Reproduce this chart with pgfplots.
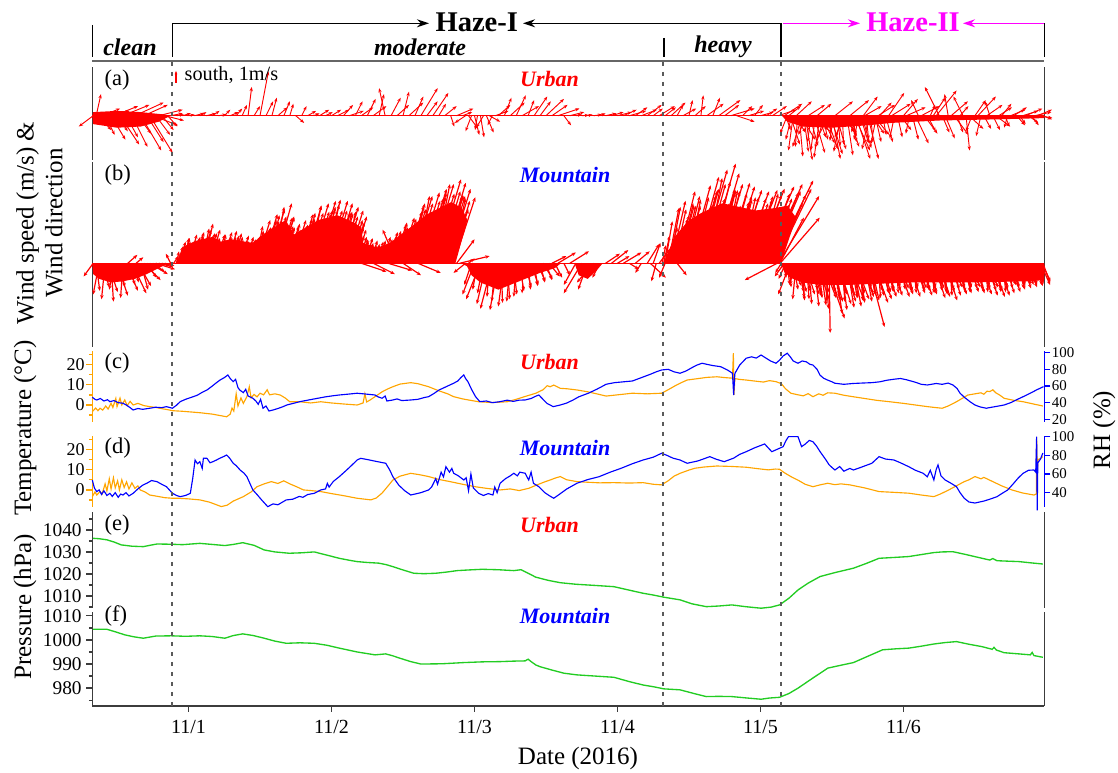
\documentclass[border=0pt]{standalone}
\usepackage{fontspec}
\setmainfont{Liberation Serif}
\usepackage{pgfplots}
\pgfplotsset{compat=1.18}
\usetikzlibrary{arrows.meta}
\definecolor{myorange}{RGB}{255,165,0}
\definecolor{mygreen}{RGB}{34,204,34}
\definecolor{axgray}{RGB}{60,60,60}
\definecolor{dgray}{RGB}{90,90,90}
\definecolor{mymag}{RGB}{255,0,255}
\pgfplotsset{
  base/.style={scale only axis, width=714pt, xmin=7.85, xmax=167.64, clip=false, anchor=south west,
    axis line style={axgray, line width=1.1pt},
    tick style={axgray, line width=1pt},
    tick align=outside, major tick length=4.5pt, minor tick length=2.5pt,
    /pgf/number format/assume math mode=true,
    /pgf/number format/1000 sep={},
    tick label style={font=\fontsize{14.5}{15}\selectfont},
  },
  qv/.style={red, line width=0.7pt, -{Stealth[length=3.2pt,width=2.4pt]},
    quiver={u=\thisrow{u}*2.014, v=\thisrow{v}}},
  qvb/.style={red, line width=0.9pt, -{Stealth[length=3.2pt,width=2.6pt]},
    quiver={u=\thisrow{u}*2.014, v=\thisrow{v}}},
}
\newcommand{\plab}[1]{\fontsize{16.9}{17}\selectfont #1}
\newcommand{\slab}[1]{\fontsize{16.5}{17}\selectfont\bfseries\itshape #1}
\begin{document}
\begin{tikzpicture}
\path[use as bounding box] (0,0) rectangle (838.5pt,579.75pt);

% ---------------- (a) urban wind
\begin{axis}[base, at={(69.225pt,459.75pt)}, height=69.75pt, ymin=-3.69, ymax=4.06,
  axis x line=none, axis y line=box, xtick=\empty, ytick=\empty]
\addplot[red, line width=0.9pt] coordinates {(7.85,0) (167.64,0)};
\addplot[fill=red, draw=none] coordinates {(7.85,0) (8,0.3) (12,0.4) (16,0.3) (20,0.1) (21,0) (19,-0.5) (16,-0.9) (12,-1.0) (8,-0.7)} -- cycle;
\addplot[fill=red, draw=none] coordinates {(123.6,0) (124.5,-0.5) (127,-0.9) (132,-1.0) (138,-0.8) (142,-0.6) (150,-0.4) (160,-0.3) (167.64,-0.2) (167.64,0)} -- cycle;
\addplot[qv] table[row sep=\\, x=h, y expr=0] {h u v\\
8.0 -1.2 -0.9\\ 8.5 0.4 1.8\\ 9.0 1.0 -1.2\\ 9.5 1.5 0.6\\ 10.0 0.8 -1.6\\ 10.5 1.8 0.4\\ 11.0 1.2 -2.0\\ 11.5 2.0 0.8\\
12.0 0.9 -1.3\\ 12.5 1.6 -2.4\\ 13.0 2.2 0.9\\ 13.5 1.0 -1.8\\ 14.0 1.9 -0.6\\ 14.5 1.3 -2.6\\ 15.0 2.4 1.1\\ 15.5 1.1 -1.5\\
16.0 1.7 -2.9\\ 16.5 2.0 0.9\\ 17.0 1.4 -2.2\\ 17.5 1.9 -3.1\\ 18.0 2.1 -0.8\\ 18.5 1.2 -1.6\\ 19.0 2.0 0.5\\ 19.5 1.0 -1.2\\
20.0 1.6 -0.4\\ 20.5 0.8 -0.9\\ 21.0 1.0 0.2\\
22 0.6 0.1\\ 23 0.7 0.2\\ 24 0.5 0.1\\ 25 0.8 0.2\\ 26 0.5 0.3\\ 27 0.8 0.2\\ 28 0.6 0.4\\ 29 0.7 0.1\\ 30 0.5 0.5\\
31 0.7 0.3\\ 32 0.5 0.6\\ 33 0.4 0.9\\ 34 0.3 2.4\\ 35 0.5 0.8\\ 36 0.7 3.7\\ 37 0.6 1.2\\ 38 0.4 1.5\\ 39 0.8 0.7\\
40 0.5 1.2\\ 41 0.3 1.0\\ 42 0.7 -0.6\\ 43 0.4 0.8\\ 44 0.7 0.4\\ 45 0.5 0.2\\ 46 0.8 0.5\\ 47 0.6 0.3\\ 48 0.8 0.5\\
49 1.0 0.5\\ 50 0.8 0.9\\ 51 1.2 0.4\\ 52 0.6 1.2\\ 53 1.0 0.7\\ 54 0.7 1.4\\ 55 1.1 0.8\\ 56 0.4 1.8\\ 57 -0.5 2.3\\
58 0.8 1.5\\ 59 1.0 0.9\\ 60 0.5 2.0\\ 61 1.2 1.1\\ 62 0.7 1.6\\ 63 1.4 2.3\\ 64 0.9 1.2\\ 65 1.3 1.9\\ 66 0.6 1.0\\
67 1.0 0.8\\ 68 0.3 -0.9\\ 69 1.4 0.6\\ 70 0.8 0.3\\
70.5 -0.9 -0.6\\ 71.0 0.8 -1.1\\ 71.5 -0.5 -1.3\\ 72.0 0.4 -1.6\\ 72.5 -0.2 -1.2\\ 73.0 0.3 -1.8\\ 73.5 -0.6 -1.0\\
74.0 0.6 -1.4\\ 74.5 0.9 -0.5\\ 75.0 -0.4 -0.8\\ 75.5 1.1 0.4\\
76 1.0 0.9\\ 77 0.6 1.5\\ 78 1.2 1.1\\ 79 0.8 1.7\\ 80 1.4 0.8\\ 81 0.5 1.3\\ 82 1.1 1.6\\ 83 0.9 1.2\\ 84 1.5 1.4\\
85 1.3 0.9\\ 86 1.8 0.6\\ 87 0.6 -0.8\\ 88 1.2 0.3\\ 89 0.5 0.1\\ 90 0.6 0.05\\ 91 0.4 0.1\\ 92 0.7 0.1\\ 93 0.5 0.2\\
94 0.9 0.2\\ 95 1.0 0.3\\ 96 1.2 0.3\\ 97 1.1 0.5\\ 98 1.4 0.4\\ 99 1.0 0.7\\ 100 1.3 0.5\\ 101 1.2 0.9\\ 102 0.8 0.6\\ 103 1.3 0.8\\
104 0.9 0.7\\ 105 1.2 1.1\\ 106 0.5 0.9\\ 107 1.1 0.6\\ 108 0.3 1.3\\ 109 0.9 0.8\\ 110 0.2 1.7\\ 111 1.4 1.0\\ 112 0.6 1.5\\
113 1.8 1.3\\ 114 1.2 0.9\\ 115 2.0 0.6\\ 116 1.5 -0.5\\ 117 0.8 0.8\\ 118 1.3 0.4\\ 119 0.7 0.9\\ 120 1.1 0.3\\ 121 0.9 0.6\\
122 1.2 0.8\\ 123 1.5 0.5\\
124.0 1.5 1.0\\ 124.5 -0.6 -1.5\\ 125.0 0.8 -2.4\\ 125.5 -0.4 -2.9\\ 126.0 1.3 1.2\\ 126.5 0.3 -3.4\\ 127.0 -0.8 -2.6\\
127.5 0.6 -3.7\\ 128.0 1.4 0.9\\ 128.5 -0.3 -2.2\\ 129.0 0.9 -3.1\\ 129.5 1.2 1.0\\ 130.0 -0.5 -3.5\\ 130.5 0.4 -2.0\\
131.0 1.0 -2.8\\ 131.5 -1.0 -1.9\\ 132.0 0.7 -3.6\\ 132.5 1.5 1.2\\ 133.0 0.2 -2.5\\ 133.5 -0.6 -3.0\\ 134.0 1.1 -1.7\\
134.5 0.5 -3.3\\ 135.0 1.6 1.3\\ 135.5 0.3 -2.2\\ 136.0 1.2 -3.6\\ 136.5 -0.4 -2.0\\ 137.0 0.8 -2.7\\ 137.5 1.4 0.8\\
138.0 0.9 -3.6\\ 138.5 0.2 -2.2\\ 139.0 1.3 -1.6\\ 139.5 -0.5 -2.4\\ 140.0 1.0 1.1\\
141 0.6 -2.2\\ 142 1.6 1.0\\ 143 0.4 -1.8\\ 144 1.2 1.4\\ 145 -0.3 -1.5\\ 146 1.1 -2.3\\ 147 1.5 0.8\\ 148 0.7 -1.3\\
149 1.0 1.5\\ 150 -1.2 2.4\\ 151 0.8 -1.9\\ 152 1.4 1.2\\ 153 0.5 -1.4\\ 154 -0.8 1.6\\ 154.5 0.3 -2.9\\ 155 1.2 -1.1\\
156 0.9 1.3\\ 157 -0.4 -1.7\\ 158 1.3 0.9\\ 159 0.6 -1.2\\ 160 1.1 0.7\\ 161 0.4 -0.9\\ 162 1.2 0.5\\ 163 0.7 -0.8\\
164 1.3 0.4\\ 165 0.8 -0.6\\ 166 1.4 0.3\\ 167 1.0 -0.2\\
124.25 0.4 -1.2\\ 124.75 1.0 0.8\\ 125.25 -0.5 -2.0\\ 125.75 0.9 -1.4\\ 126.25 -0.2 -2.6\\ 126.75 1.2 -2.0\\ 127.25 0.4 -3.0\\
127.75 -0.7 -1.6\\ 128.25 0.7 -2.5\\ 128.75 1.3 -1.2\\ 129.25 -0.4 -2.9\\ 129.75 0.6 -1.8\\ 130.25 1.1 -2.3\\ 130.75 -0.8 -2.7\\
131.25 0.3 -1.5\\ 131.75 1.0 -3.2\\ 132.25 -0.3 -2.1\\ 132.75 0.8 -2.8\\ 133.25 1.4 -1.3\\ 133.75 0.1 -2.4\\ 134.25 -0.9 -1.8\\
134.75 0.9 -2.6\\ 135.25 0.4 -1.6\\ 135.75 1.3 -2.9\\ 136.25 -0.5 -1.4\\ 136.75 0.7 -2.3\\ 137.25 1.2 1.6\\ 137.75 0.2 -2.0\\
138.25 -0.6 -2.8\\ 138.75 1.0 -1.5\\ 139.25 0.5 -2.2\\ 139.75 1.4 0.9\\ 140.5 0.3 -1.6\\ 141.5 1.3 1.9\\ 142.5 -0.4 -1.9\\
143.5 0.9 -1.2\\ 144.5 1.6 0.7\\ 145.5 0.5 -2.0\\ 146.5 -0.6 1.3\\ 147.5 1.1 -1.5\\ 148.5 0.4 0.9\\ 149.5 1.7 2.1\\
150.5 0.6 -1.4\\ 151.5 -0.3 1.8\\ 152.5 1.2 -1.6\\ 153.5 0.7 0.8\\ 155.5 -0.5 -1.3\\ 156.5 1.5 1.6\\ 157.5 0.6 -1.1\\
158.5 -0.4 1.2\\ 159.5 1.2 -0.9\\ 160.5 0.8 1.0\\ 161.5 -0.3 -1.0\\ 162.5 1.1 0.7\\ 163.5 0.5 -0.7\\ 164.5 1.4 0.6\\
165.5 0.6 -0.8\\ 166.5 1.2 0.5\\ 167.3 0.8 -0.3\\
};
% reference arrow 1 m/s
\addplot[red, line width=0.9pt, -{Stealth[length=2.5pt,width=2pt]}, quiver={u=0, v=\thisrow{v}}] table[row sep=\\, x=h, y=y] {h y v\\ 21.9 2.73 1\\};
\end{axis}

% ---------------- (b) mountain wind
\begin{axis}[base, at={(69.225pt,319.5pt)}, height=138.75pt, ymin=-6.975, ymax=8.44,
  axis x line=none, axis y line=box, xtick=\empty, ytick=\empty]
\addplot[red, line width=0.9pt] coordinates {(7.85,0) (167.64,0)};
\addplot[fill=red, draw=none] coordinates {(7.85,0) (8,-0.9) (9,-1.3) (11,-1.6) (13,-1.5) (15,-1.3) (17,-0.9) (19,-0.4) (20,-0.15) (20.5,0)} -- cycle;
\addplot[fill=red, draw=none] coordinates {(21.8,0) (23.2,1.4) (24.9,1.8) (27.1,2.1) (28.1,2.2) (29.4,1.8) (31,2.0) (34.8,1.7) (36.8,2.5) (40.3,3.6) (41.7,2.4) (45.8,3.6) (49,4.0) (51.7,3.4) (53,3.0) (53.3,1.7) (55.7,1.3) (57.8,1.7) (61,2.9) (64.1,4.1) (68.1,5.1) (69.9,4.6) (70.8,3.6) (68.8,0)} -- cycle;
\addplot[fill=red, draw=none] coordinates {(70.5,0) (71.5,-1.0) (73,-1.6) (76,-2.2) (78,-1.8) (80,-1.4) (83,-0.8) (85.5,-0.4) (86.5,0)} -- cycle;
\addplot[fill=red, draw=none] coordinates {(88.8,0) (89.5,-1.0) (91,-1.3) (92.5,-0.6) (93.5,0)} -- cycle;
\addplot[fill=red, draw=none] coordinates {(103.7,0) (105.6,2.2) (107.8,3.5) (110.1,4.2) (113.6,5.0) (116.4,4.7) (119.2,4.4) (122.4,4.6) (124.5,4.8) (126,3.8) (123.4,0)} -- cycle;
\addplot[fill=red, draw=none] coordinates {(123.4,0) (124,-0.7) (125,-1.2) (127,-1.6) (130,-1.8) (135,-1.8) (145,-1.6) (155,-1.6) (165,-1.5) (167.64,-1.4) (167.64,0)} -- cycle;
\addplot[qvb] table[row sep=\\, x=h, y expr=0] {h u v\\
8.0 -0.8 -1.1\\ 8.5 0.3 -2.3\\ 9.0 -0.5 -2.6\\ 9.5 0.6 -2.0\\ 10.0 -0.3 -3.0\\ 10.5 0.8 -2.4\\ 11.0 0.2 -3.2\\
11.5 -0.4 -2.2\\ 12.0 0.9 -2.7\\ 12.5 0.4 -2.0\\ 13.0 -0.2 -2.9\\ 13.5 1.0 -2.3\\ 13.8 0.8 0.7\\ 14.0 0.5 -1.8\\ 14.5 1.2 -2.5\\
15.0 0.3 -1.6\\ 15.2 0.6 0.5\\ 15.5 1.1 -1.9\\ 16.0 0.6 -2.2\\ 16.5 1.4 -1.4\\ 17.0 0.8 -1.2\\ 17.5 1.5 -0.9\\ 18.0 1.0 -0.7\\
18.5 1.6 -0.5\\ 19.0 1.2 -0.3\\ 19.5 1.0 -0.2\\ 20.0 0.8 -0.2\\ 21.0 -0.4 0.8\\ 21.5 0.4 0.6\\
22.0 0.2 1.0\\ 22.5 0.5 1.8\\ 23.0 0.6 2.1\\ 23.5 0.4 1.8\\ 24.0 0.7 2.4\\ 24.5 0.6 2.0\\ 25.0 0.8 2.6\\ 25.5 0.5 2.2\\
26.0 0.9 2.8\\ 26.5 0.8 3.3\\ 27.0 0.7 2.5\\ 27.5 0.9 2.8\\ 28.0 0.5 2.0\\ 28.5 0.8 2.4\\ 29.0 0.6 2.0\\ 29.5 0.9 2.6\\
30.0 0.6 2.2\\ 30.5 0.8 2.7\\ 31.0 0.7 2.1\\ 31.5 0.7 2.5\\ 32.0 0.6 1.9\\ 32.5 0.8 2.3\\ 33.0 0.5 1.9\\ 33.5 0.7 2.2\\
34.0 0.6 1.8\\ 34.5 0.8 2.3\\ 35.0 0.8 2.7\\ 35.5 1.1 3.6\\ 36.0 0.9 3.0\\ 36.5 1.2 4.1\\ 37.0 1.1 3.5\\ 37.5 1.3 4.5\\
38.0 1.2 3.9\\ 38.5 1.4 5.0\\ 39.0 1.2 3.8\\ 39.5 1.1 3.9\\ 40.0 0.9 3.0\\ 40.5 1.0 3.1\\ 41.0 0.9 2.8\\ 41.5 1.1 3.6\\
42.0 1.0 3.2\\ 42.5 1.2 4.1\\ 43.0 1.1 3.7\\ 43.5 1.4 4.8\\ 44.0 1.3 4.2\\ 44.5 1.5 5.0\\ 45.0 1.3 4.3\\ 45.5 1.6 5.2\\
46.0 1.3 4.5\\ 46.5 1.5 5.3\\ 47.0 1.4 4.4\\ 47.5 1.6 5.2\\ 48.0 1.3 4.4\\ 48.5 1.5 5.0\\ 49.0 1.3 4.1\\ 49.5 1.5 4.7\\
50.0 1.2 3.9\\ 50.5 1.4 4.4\\ 51.0 1.1 3.6\\ 51.5 1.2 3.9\\ 52.0 0.9 2.8\\ 52.5 0.7 2.2\\ 53.0 0.6 1.9\\ 53.5 0.7 2.1\\
54.0 0.5 1.7\\ 54.5 0.6 1.9\\ 55.0 0.5 1.5\\ 55.5 0.6 1.8\\ 56.0 0.5 1.7\\ 56.5 0.7 2.2\\ 57.0 0.6 2.0\\ 57.5 0.8 2.6\\
58.0 0.8 2.5\\ 58.5 1.0 3.2\\ 59.0 0.9 3.0\\ 59.5 1.2 3.8\\ 60.0 1.1 3.7\\ 60.5 1.5 4.8\\ 61.0 1.4 4.5\\ 61.5 1.7 5.6\\
62.0 1.5 5.0\\ 62.5 1.8 5.9\\ 63.0 1.6 5.2\\ 63.5 1.9 6.2\\ 64.0 1.6 5.5\\ 64.5 2.0 6.6\\ 65.0 1.8 5.8\\ 65.5 2.1 7.0\\
66.0 1.8 6.0\\ 66.5 2.0 6.7\\ 67.0 1.7 5.6\\ 67.5 1.9 6.2\\ 68.0 1.6 5.2\\ 68.5 1.8 5.5\\
53.0 2.1 -0.7\\ 55.0 1.8 -0.9\\ 57.5 2.0 -0.6\\ 60.0 1.5 -1.0\\ 62.5 1.9 -0.8\\ 59.0 -1.2 2.8\\ 64.0 -0.8 3.4\\
69.0 1.5 2.0\\ 69.5 2.5 0.6\\ 70.0 0.8 -0.4\\ 70.5 -1.0 -0.8\\ 71.0 0.5 0.4\\
71.5 -0.6 -1.8\\ 72.0 -1.0 -2.6\\ 72.5 -0.4 -2.2\\ 73.0 -1.2 -3.0\\ 73.5 -0.5 -2.5\\ 74.0 -0.8 -3.4\\ 74.5 -0.2 -2.8\\
75.0 -1.0 -3.8\\ 75.5 -0.3 -3.2\\ 76.0 -0.7 -3.9\\ 76.5 0.1 -3.3\\ 77.0 -0.5 -3.6\\ 77.5 0.2 -3.0\\ 78.0 -0.3 -3.2\\
78.5 0.3 -2.6\\ 79.0 -0.2 -2.8\\ 79.5 0.4 -2.3\\ 80.0 0.0 -2.5\\ 80.5 0.5 -2.0\\ 81.0 0.2 -2.2\\ 81.5 0.6 -1.8\\
82.0 0.3 -1.9\\ 82.5 0.7 -1.5\\ 83.0 0.4 -1.6\\ 83.5 0.8 -1.3\\ 84.0 0.5 -1.4\\ 84.5 0.9 -1.1\\ 85.0 1.2 0.6\\ 85.5 0.6 -1.2\\
86.0 1.5 0.9\\ 87.0 0.5 -1.0\\ 88.0 1.6 1.0\\ 89.0 -1.0 -1.8\\ 90.0 -1.5 -2.5\\ 91.0 -0.8 -2.2\\ 92.0 -1.4 -1.6\\
93.0 -0.6 -1.2\\ 94.0 1.2 0.8\\ 95.0 1.4 1.1\\ 96.0 1.0 0.6\\ 97.0 1.5 0.9\\ 98.0 0.8 -0.5\\ 99.0 1.2 1.0\\
100.0 -0.5 -0.8\\ 101.0 1.0 1.6\\ 101.5 1.3 -1.2\\ 102.0 0.6 1.7\\ 102.5 -0.4 -1.5\\ 103.0 0.9 1.2\\
103.5 0.3 1.5\\ 104.0 0.6 3.5\\ 104.5 0.9 4.6\\ 105.0 1.2 5.2\\ 105.5 1.0 4.5\\ 106.0 1.5 6.0\\ 106.5 1.1 5.0\\
107.0 1.4 5.6\\ 107.5 1.2 4.8\\ 108.0 1.8 6.5\\ 108.5 1.4 5.5\\ 109.0 2.0 7.2\\ 109.5 1.6 6.0\\ 110.0 2.2 7.8\\
110.5 1.8 6.6\\ 111.0 2.4 8.3\\ 111.5 1.7 6.8\\ 112.0 2.2 7.5\\ 112.5 1.6 6.2\\ 113.0 2.0 6.6\\ 113.5 1.5 6.0\\
114.0 2.1 6.7\\ 114.5 1.6 5.8\\ 115.0 2.0 6.4\\ 115.5 1.5 5.6\\ 116.0 2.1 6.1\\ 116.5 1.6 5.5\\ 117.0 2.2 6.0\\
117.5 1.7 5.4\\ 118.0 2.4 6.1\\ 118.5 1.8 5.6\\ 119.0 2.5 6.2\\ 119.5 2.0 5.7\\ 120.0 2.8 6.4\\ 120.5 2.2 5.8\\
121.0 3.0 6.6\\ 121.5 2.6 6.0\\ 122.0 3.4 6.9\\ 122.5 3.0 6.2\\ 123.0 3.4 5.6\\ 123.3 3.3 3.8\\
122.8 -2.7 -1.4\\ 104.0 -0.5 -1.2\\ 106.0 0.8 -1.0\\
123.5 -0.5 -0.8\\ 124.0 -0.8 -1.1\\ 124.5 0.2 -1.8\\ 125.0 -1.0 -2.6\\ 125.5 0.4 -2.2\\ 126.0 -0.3 -3.0\\ 126.5 0.6 -2.4\\
127.0 0.2 -3.1\\ 127.5 0.8 -2.6\\ 128.0 0.3 -3.4\\ 128.5 0.9 -2.8\\ 129.0 0.4 -3.6\\ 129.5 1.0 -3.0\\ 130.0 0.5 -3.5\\
130.5 1.1 -2.9\\ 131.0 0.2 -3.8\\ 131.5 0.1 -5.8\\ 132.0 0.9 -3.2\\ 132.5 0.6 -4.2\\ 133.0 1.1 -3.4\\ 133.5 0.5 -3.9\\
134.0 1.0 -3.2\\ 134.5 0.6 -3.7\\ 135.0 1.2 -3.1\\ 135.5 0.7 -3.6\\ 136.0 1.1 -3.0\\ 136.5 0.5 -3.3\\ 137.0 1.0 -2.8\\
137.5 0.6 -3.2\\ 138.0 1.4 -5.3\\ 138.5 0.7 -3.1\\ 139.0 1.2 -3.3\\ 139.5 0.6 -2.7\\ 140.0 1.0 -3.0\\ 140.5 0.5 -2.5\\
141.0 0.9 -2.8\\ 141.5 0.4 -2.4\\ 142.0 0.9 -2.7\\ 142.5 0.5 -2.3\\ 143.0 1.0 -2.8\\ 143.5 0.4 -2.2\\ 144.0 0.8 -2.6\\
144.5 0.5 -2.3\\ 145.0 0.9 -2.8\\ 145.5 0.4 -2.2\\ 146.0 0.8 -2.5\\ 146.5 0.5 -2.3\\ 147.0 0.9 -2.7\\ 147.5 0.4 -2.2\\
148.0 0.8 -2.6\\ 148.5 0.5 -2.4\\ 149.0 1.0 -2.9\\ 149.5 0.5 -2.3\\ 150.0 0.9 -2.8\\ 150.5 0.4 -2.5\\ 151.0 1.0 -3.1\\
151.5 0.5 -2.4\\ 152.0 0.8 -2.7\\ 152.5 0.4 -2.2\\ 153.0 0.8 -2.6\\ 153.5 0.3 -2.1\\ 154.0 0.7 -2.5\\ 154.5 0.4 -2.1\\
155.0 0.8 -2.4\\ 155.5 0.4 -2.1\\ 156.0 0.8 -2.5\\ 156.5 0.4 -2.2\\ 157.0 0.9 -2.6\\ 157.5 0.5 -2.2\\ 158.0 0.9 -2.7\\
158.5 0.5 -2.3\\ 159.0 1.0 -2.8\\ 159.5 0.5 -2.3\\ 160.0 0.9 -2.7\\ 160.5 0.5 -2.2\\ 161.0 0.8 -2.5\\ 161.5 0.4 -2.1\\
162.0 0.8 -2.4\\ 162.5 0.4 -2.0\\ 163.0 0.7 -2.2\\ 163.5 0.4 -1.9\\ 164.0 0.7 -2.1\\ 164.5 0.4 -1.8\\ 165.0 0.7 -2.0\\
165.5 0.4 -1.8\\ 166.0 0.7 -1.9\\ 166.5 0.5 -1.7\\ 167.0 0.8 -1.8\\ 167.4 0.6 -1.6\\
};
% interleaved records
\addplot[qvb] table[row sep=\\, x=h, y expr=0] {h u v\\
22.25 0.4 1.4\\ 22.75 0.5 1.5\\ 23.25 0.4 2.1\\ 23.75 0.8 1.9\\ 24.25 0.5 1.7\\ 24.75 0.6 2.2\\ 25.25 0.6 2.4\\ 25.75 0.7 2.1\\
26.25 0.6 2.9\\ 26.75 1.0 2.5\\ 27.25 0.6 2.0\\ 27.75 0.6 2.2\\ 28.25 0.5 2.1\\ 28.75 0.6 1.8\\ 29.25 0.5 2.4\\ 29.75 0.8 2.1\\
30.25 0.6 1.9\\ 30.75 0.6 2.2\\ 31.25 0.6 2.3\\ 31.75 0.6 1.8\\ 32.25 0.4 2.2\\ 32.75 0.7 1.8\\ 33.25 0.5 1.5\\ 33.75 0.5 1.8\\
34.25 0.5 2.0\\ 34.75 0.7 2.0\\ 35.25 0.6 3.1\\ 35.75 1.2 3.0\\ 36.25 0.8 2.8\\ 36.75 1.0 3.6\\ 37.25 1.0 4.0\\ 37.75 1.2 3.5\\
38.25 0.9 4.7\\ 38.75 1.5 3.8\\ 39.25 0.9 2.9\\ 39.75 0.9 3.1\\ 40.25 0.7 2.9\\ 40.75 0.8 2.4\\ 41.25 0.7 3.3\\ 41.75 1.2 3.0\\
42.25 0.8 2.8\\ 42.75 1.0 3.7\\ 43.25 1.0 4.2\\ 43.75 1.3 3.7\\ 44.25 1.0 4.8\\ 44.75 1.6 4.1\\ 45.25 1.1 3.6\\ 45.75 1.2 4.4\\
46.25 1.2 4.7\\ 46.75 1.4 3.9\\ 47.25 1.0 4.9\\ 47.75 1.7 4.2\\ 48.25 1.1 3.6\\ 48.75 1.2 4.2\\ 49.25 1.1 4.3\\ 49.75 1.2 3.5\\
50.25 0.9 4.3\\ 50.75 1.4 3.4\\ 51.25 0.8 2.8\\ 51.75 0.8 3.0\\ 52.25 0.6 2.3\\ 52.75 0.6 1.7\\ 53.25 0.4 2.0\\ 53.75 0.6 1.6\\
54.25 0.4 1.3\\ 54.75 0.4 1.5\\ 55.25 0.4 1.6\\ 55.75 0.5 1.4\\ 56.25 0.4 1.9\\ 56.75 0.7 1.8\\ 57.25 0.5 1.7\\ 57.75 0.6 2.3\\
58.25 0.7 2.7\\ 58.75 0.9 2.5\\ 59.25 0.7 3.4\\ 59.75 1.3 3.2\\ 60.25 1.0 3.2\\ 60.75 1.2 4.3\\ 61.25 1.2 5.0\\ 61.75 1.5 4.3\\
62.25 1.1 5.6\\ 62.75 1.9 4.8\\ 63.25 1.3 4.3\\ 63.75 1.5 5.4\\ 64.25 1.5 5.9\\ 64.75 1.8 5.0\\ 65.25 1.3 6.6\\ 65.75 2.2 5.6\\
66.25 1.4 4.8\\ 66.75 1.6 5.6\\ 67.25 1.4 5.7\\ 67.75 1.6 4.5\\ 68.25 1.1 5.4\\
103.75 0.5 2.3\\ 104.25 0.9 3.0\\ 104.75 0.9 4.7\\ 105.25 1.4 4.0\\ 105.75 1.0 3.7\\ 106.25 1.3 4.8\\ 106.75 1.2 4.8\\
107.25 1.4 4.0\\ 107.75 1.1 5.3\\ 108.25 1.8 4.8\\ 108.75 1.3 4.5\\ 109.25 1.6 5.6\\ 109.75 1.6 6.2\\ 110.25 1.9 5.4\\
110.75 1.4 7.1\\ 111.25 2.3 6.1\\ 111.75 1.5 5.0\\ 112.25 1.7 5.9\\ 112.75 1.5 5.9\\ 113.25 1.7 4.8\\ 113.75 1.2 6.1\\
114.25 2.0 5.0\\ 114.75 1.3 4.3\\ 115.25 1.4 5.1\\ 115.75 1.4 5.3\\ 116.25 1.6 4.4\\ 116.75 1.2 5.5\\ 117.25 1.9 4.6\\
117.75 1.3 4.1\\ 118.25 1.5 5.0\\ 118.75 1.6 5.3\\ 119.25 1.8 4.5\\ 119.75 1.6 5.8\\ 120.25 2.3 4.9\\ 120.75 1.6 4.3\\
121.25 2.0 5.4\\ 121.75 2.3 5.9\\ 122.25 2.4 5.0\\ 122.75 2.4 5.7\\ 123.25 2.0 3.8\\
123.75 0.3 -1.2\\ 124.25 -0.6 -1.3\\ 124.75 0.2 -2.0\\ 125.25 0.8 -1.9\\ 125.75 -0.4 -1.8\\ 126.25 0.5 -2.4\\ 126.75 0.3 -2.9\\
127.25 0.6 -2.4\\ 127.75 0.2 -3.0\\ 128.25 0.8 -2.6\\ 128.75 0.4 -2.2\\ 129.25 0.5 -2.7\\ 129.75 0.3 -2.9\\ 130.25 0.6 -2.4\\
130.75 0.2 -3.2\\ 130.9 1.6 -4.6\\ 131.25 0.8 -2.7\\ 131.75 0.4 -2.4\\ 132.25 0.5 -2.9\\ 132.75 0.3 -3.1\\ 133.25 0.6 -2.6\\
133.75 0.2 -3.2\\ 134.25 0.8 -2.7\\ 134.75 0.4 -2.4\\ 135.25 0.5 -2.9\\ 135.75 0.3 -2.9\\ 136.25 0.6 -2.5\\ 136.75 0.2 -3.1\\
137.25 0.8 -2.5\\ 137.75 0.4 -2.1\\ 138.25 0.5 -2.6\\ 138.75 0.3 -2.7\\ 139.25 0.6 -2.3\\ 139.75 0.2 -2.9\\ 140.25 0.8 -2.4\\
140.75 0.4 -1.8\\ 141.25 0.5 -2.2\\ 141.75 0.3 -2.3\\ 142.25 0.6 -2.0\\ 142.75 0.2 -2.5\\ 143.25 0.8 -2.1\\ 143.75 0.4 -1.8\\
144.25 0.5 -2.2\\ 144.75 0.3 -2.4\\ 145.25 0.6 -2.0\\ 145.75 0.2 -2.5\\ 146.25 0.8 -2.1\\ 146.75 0.4 -1.8\\ 147.25 0.5 -2.2\\
147.75 0.3 -2.3\\ 148.25 0.6 -2.0\\ 148.75 0.2 -2.5\\ 149.25 0.8 -2.1\\ 149.75 0.4 -1.9\\ 150.25 0.5 -2.4\\ 150.75 0.3 -2.6\\
151.25 0.6 -2.2\\ 151.75 0.2 -2.7\\ 152.25 0.8 -2.0\\ 152.75 0.4 -1.7\\ 153.25 0.5 -2.1\\ 153.75 0.3 -2.4\\ 154.25 0.6 -2.0\\
154.75 0.2 -2.4\\ 155.25 0.8 -2.0\\ 155.75 0.4 -1.7\\ 156.25 0.5 -2.1\\ 156.75 0.3 -2.3\\ 157.25 0.6 -1.9\\ 157.75 0.2 -2.4\\
158.25 0.8 -2.0\\ 158.75 0.4 -1.7\\ 159.25 0.5 -2.1\\ 159.75 0.3 -2.4\\ 160.25 0.6 -2.0\\ 160.75 0.2 -2.4\\ 161.25 0.8 -1.8\\
161.75 0.4 -1.5\\ 162.25 0.5 -1.9\\ 162.75 0.3 -2.1\\ 163.25 0.6 -1.8\\ 163.75 0.2 -2.1\\ 164.25 0.8 -1.8\\ 164.75 0.4 -1.4\\
165.25 0.5 -1.6\\ 165.75 0.3 -1.8\\ 166.25 0.6 -1.5\\ 166.75 0.2 -1.8\\ 167.25 0.7 -1.5\\
};
\end{axis}

% ---------------- (c) urban T
\begin{axis}[base, at={(69.225pt,263.25pt)}, height=53.25pt, ymin=-8.37, ymax=26.6,
  axis x line=none, axis y line*=left, xtick=\empty, ytick={0,10,20}, minor ytick={-5,5,15,25},
  axis line style={myorange}, tick style={myorange},
  yticklabel style={font=\fontsize{13.5}{13.5}\selectfont, inner sep=1pt}]
\addplot[myorange, line width=0.85pt] coordinates {
(7.85,-3.3) (8.4,-1.5) (8.8,-2.8) (9.15,-1.6) (9.6,-2.5) (10.1,-0.5) (10.5,-2.0) (11.0,0.8) (11.3,-1.2) (11.8,3.2) (12.0,-0.8)
(12.5,3.4) (12.8,0.0) (13.3,2.5) (13.7,-0.3) (14.2,1.8) (14.7,0.0) (15.5,0.8) (16.5,-0.3) (17.5,-0.8) (18.5,-1.2) (19.5,-1.8)
(20.5,-2.3) (21.3,-2.8) (23.0,-3.1) (25.9,-3.8) (28.0,-4.5) (30.4,-5.8) (31.0,-4.5) (31.3,-1.5) (31.6,-3.0) (32.0,5.5) (32.3,-0.5)
(32.8,3.5) (33.2,0.8) (33.8,4.1) (34.2,9.0) (34.5,3.5) (35.0,5.2) (35.5,4.0) (36.0,5.8) (36.6,5.0) (37.2,7.5) (37.6,5.0)
(38.5,5.5) (39.4,4.9) (40.2,3.5) (41.0,1.6) (42.7,1.6) (44.5,1.0) (46.2,1.6) (48.0,1.0) (50.0,0.5) (52.3,0.0) (53.3,1.0)
(53.6,5.5) (53.9,1.5) (54.5,2.5) (55.3,4.1) (56.5,6.5) (57.5,8.0) (58.3,9.0) (59.5,10.3) (61.3,11.0) (62.5,10.5) (64.3,9.0)
(66.0,7.0) (67.5,5.5) (68.5,4.1) (70.0,3.0) (71.5,2.2) (72.7,1.6) (75.0,1.2) (77.5,1.6) (79.0,2.8) (80.5,4.2) (82.3,5.8)
(83.5,7.5) (84.2,9.5) (84.7,9.0) (85.3,9.8) (86.4,8.2) (87.5,8.0) (89.2,7.4) (91.0,6.5) (92.5,5.5) (94.1,4.4) (96.0,5.0)
(98.5,5.8) (101.0,5.5) (103.4,5.8) (104.5,7.5) (105.7,9.5) (106.7,11.0) (107.7,12.3) (109.5,13.0) (111.0,13.6) (112.7,13.9)
(114.0,13.5) (115.3,13.2) (115.45,25.5) (115.55,5.0) (115.7,13.0) (116.5,12.6) (117.6,12.3) (119.0,11.8) (120.5,11.3)
(121.5,12.0) (122.6,11.5) (123.5,10.5) (124.2,8.0) (125.1,5.8) (126.0,5.2) (127.2,4.5) (128.0,5.6) (128.8,4.1) (129.8,5.5)
(130.5,4.8) (131.3,6.0) (132.5,5.8) (134.0,4.8) (135.5,4.1) (137.5,3.2) (139.5,2.3) (141.7,1.6) (144.0,0.8) (146.0,0.0)
(148.0,-0.8) (149.5,-1.3) (150.5,-1.6) (151.5,-0.5) (152.9,1.6) (154.0,3.5) (154.8,4.9) (156.0,5.5) (157.0,6.0) (157.5,5.3)
(158.0,6.8) (158.5,6.6) (159.0,7.5) (159.5,6.0) (160.2,4.8) (160.9,3.3) (162.5,2.3) (164.1,1.6) (165.8,0.5) (167.4,-0.5)};
\end{axis}
% ---------------- (c) urban RH
\begin{axis}[base, at={(69.225pt,263.25pt)}, height=53.25pt, ymin=16.8, ymax=102.0,
  axis x line=none, axis y line*=right, xtick=\empty, ytick={20,40,60,80,100},
  axis line style={blue}, tick style={blue},
  yticklabel style={font=\fontsize{11.2}{11.2}\selectfont, inner sep=1pt}]
\addplot[blue, line width=0.85pt] coordinates {
(7.85,46.5) (8.3,44) (8.6,43.2) (9.2,45) (9.8,42) (10.4,43.5) (10.8,41.2) (11.5,42.5) (12.2,40) (13.0,39.3) (13.6,37)
(14.2,34) (14.7,31.2) (15.5,33) (16.3,32) (17.5,33.3) (18.5,34.5) (19.5,34) (20.3,35.2) (21.3,33.3) (22.0,37) (22.6,41.2)
(23.5,44) (24.8,47.2) (25.5,49) (26.2,52) (27.1,55.2) (28.0,60) (28.7,64) (29.3,67.2) (30.0,70) (30.6,73.2) (31.0,69)
(31.5,65.2) (31.9,68) (32.3,58) (32.6,55.2) (33.2,52) (33.6,56) (34.0,48) (34.8,45.3) (35.3,42) (35.7,38) (36.1,44)
(36.5,33.3) (37.0,36) (37.5,30) (38.2,31.2) (39.0,33) (39.8,35) (40.5,37.2) (41.5,39) (42.7,41.2) (44.0,43) (45.5,45)
(47.0,47) (48.5,48.5) (49.3,49.2) (50.5,50) (52.3,51.3) (53.5,50.5) (55.3,49.2) (55.8,47) (56.5,45.3) (57.0,48) (57.3,42)
(58.3,43.2) (59.0,44.5) (59.8,42.5) (61.3,43.2) (62.5,44) (63.5,46) (64.3,47.2) (65.2,51) (66.0,55) (66.7,57.3) (67.5,60)
(68.5,63.3) (69.2,66) (69.7,70) (70.2,73.2) (70.5,69) (70.9,65.2) (71.5,56) (72.2,47) (72.9,41.2) (74.0,42) (75.0,40)
(76.3,41.2) (77.5,43) (78.5,41.5) (79.5,43) (80.5,43.2) (81.5,45) (82.2,47.5) (82.8,49.2) (83.5,44) (84.2,39) (84.7,37.2)
(85.2,35.2) (86.3,37) (87.4,39.3) (88.5,43) (89.5,47) (91.1,51.3) (92.5,56) (93.3,59) (94.1,62.1) (95.5,64) (97.0,65)
(98.5,66.0) (100.0,70) (101.5,74) (102.5,77) (103.4,79.2) (104.5,80) (105.5,77) (106.5,75.3) (107.5,78) (108.5,82) (109.3,85)
(110.2,87.3) (111.0,86) (112.0,84.5) (113.3,83.2) (114.5,79) (115.3,75.3) (115.5,49.2) (115.7,75) (116.5,85) (117.6,93.3)
(118.5,95) (119.3,93.5) (120.1,97.2) (120.8,94) (121.7,90) (122.6,87.3) (123.2,91) (123.8,96) (124.5,99.3) (125.0,95)
(125.5,90) (126.3,87.3) (127.0,90) (127.7,89) (128.3,86) (128.8,85.2) (129.5,80) (130.0,73) (130.6,69.3) (131.3,67) (132.0,65)
(132.5,63.3) (134.0,62) (135.5,63) (137.0,63.5) (138.7,64.0) (140.0,65) (141.3,67) (142.4,68.1) (143.5,69) (144.5,67.5)
(146.0,64.5) (147.0,62) (148.0,61.2) (149.5,63) (150.5,62) (151.5,63.5) (152.3,61.2) (153.0,57) (153.5,51.3) (154.3,46)
(155.2,41) (156.0,37.2) (156.8,35) (157.9,33.3) (158.8,34.5) (160.0,36) (160.9,37.2) (162.0,40) (163.0,43.5) (164.1,47.2)
(165.2,51) (166.4,55.5) (167.5,59.2)};
\end{axis}

% ---------------- (d) mountain T
\begin{axis}[base, at={(69.225pt,199.5pt)}, height=52.875pt, ymin=-8.4, ymax=26.35,
  axis x line=none, axis y line*=left, xtick=\empty, ytick={0,10,20}, minor ytick={-5,5,15,25},
  axis line style={myorange}, tick style={myorange},
  yticklabel style={font=\fontsize{13.5}{13.5}\selectfont, inner sep=1pt}]
\addplot[myorange, line width=0.85pt] coordinates {
(7.85,-3.3) (8.3,-1.0) (8.6,-2.5) (9.15,-0.8) (9.5,-2.0) (10.0,3.0) (10.3,-0.5) (10.7,5.5) (11.0,0.5) (11.4,6.0) (11.7,1.0)
(12.1,4.5) (12.4,0.0) (12.8,5.0) (13.2,1.2) (13.6,4.0) (14.0,0.5) (14.5,3.5) (15.0,0.8) (15.5,2.0) (15.9,0.0) (16.7,-1.0)
(17.5,-2.5) (18.5,-3.0) (20.0,-3.8) (21.3,-4.1) (22.3,-4.1) (24.0,-4.4) (25.9,-4.9) (27.5,-6.0) (29.5,-8.2) (30.5,-7.5)
(31.5,-5.5) (33.2,-3.3) (34.5,-1.0) (35.5,1.6) (36.7,3.0) (37.9,4.1) (39.0,3.2) (40.0,4.5) (41.0,3.0) (42.2,1.5) (43.3,0.0)
(44.5,-0.3) (46.2,-0.8) (48.0,-1.8) (50.0,-2.8) (52.3,-4.1) (54.6,-4.9) (55.5,-4.0) (56.5,-1.5) (57.5,2.0) (58.3,4.9)
(59.5,6.8) (61.3,8.2) (62.8,7.5) (64.3,6.6) (66.0,5.2) (67.9,4.1) (70.0,2.8) (72.1,1.6) (74.0,0.8) (76.3,0.0) (78.0,0.5)
(79.5,-0.3) (81.1,0.8) (82.5,2.5) (83.8,4.0) (84.7,4.9) (85.5,5.8) (86.4,6.6) (87.5,5.0) (89.2,4.1) (91.0,3.8) (93.0,3.5)
(95.4,3.6) (98.0,3.4) (100.3,3.6) (102.0,2.8) (103.4,2.5) (104.5,4.5) (105.5,6.8) (106.5,8.2) (108.0,9.8) (109.0,10.7)
(110.5,11.3) (112.7,11.8) (115.0,11.6) (117.6,11.2) (119.5,10.5) (121.3,9.9) (122.5,10.3) (123.2,10.2) (124.0,8.5) (125.1,6.6)
(126.5,4.5) (127.5,2.8) (128.8,1.6) (130.0,2.5) (131.3,3.3) (132.5,2.6) (133.5,3.0) (135.0,2.5) (137.5,1.0) (139.9,-0.8)
(142.5,-1.2) (144.9,-1.6) (147.0,-2.5) (149.1,-3.3) (150.2,-2.0) (151.6,0.0) (153.0,2.2) (154.2,4.1) (155.0,5.0) (156.0,6.6)
(157.0,5.5) (157.5,6.2) (159.0,4.1) (160.5,2.0) (162.2,0.0) (164.0,-1.5) (165.9,-2.5) (166.3,-2.0) (166.35,26) (166.45,8)
(166.6,15) (167.0,15.5) (167.4,16.4)};
\end{axis}
% ---------------- (d) mountain RH
\begin{axis}[base, at={(69.225pt,199.5pt)}, height=52.875pt, ymin=24.65, ymax=100.2,
  axis x line=none, axis y line*=right, xtick=\empty, ytick={40,60,80,100},
  axis line style={blue}, tick style={blue},
  yticklabel style={font=\fontsize{11.2}{11.2}\selectfont, inner sep=1pt}]
\addplot[blue, line width=0.85pt] coordinates {
(7.85,53.6) (8.2,45) (8.6,41.1) (9.0,43) (9.4,38) (9.8,42) (10.3,37) (10.8,39.3) (11.2,36) (11.7,40) (12.2,35) (12.6,38.5)
(13.0,37.5) (13.5,40) (14.0,36.5) (14.7,39.3) (15.5,44) (16.3,48) (17.0,50.1) (17.8,53) (18.7,51.8) (19.5,49) (20.3,46.4)
(21.3,39.3) (22.0,37) (22.6,35.7) (23.5,37) (24.3,39.3) (24.7,55) (25.1,75.0) (25.5,71) (25.9,73.2) (26.3,66) (26.5,77)
(27.1,76.8) (27.6,72) (28.1,73.2) (28.7,75) (29.3,77) (30.0,79) (30.4,80.4) (30.9,77) (31.5,71.5) (32.0,69) (32.7,64)
(33.3,61) (33.8,57.1) (34.3,50) (34.8,42.9) (35.5,38) (36.3,32) (37.3,25.0) (38.2,28) (39.0,27) (39.8,30) (40.4,32.2)
(41.5,33) (42.6,36) (43.2,35) (44.0,38) (45.1,39.3) (46.2,42.9) (47.0,44) (47.3,50) (47.6,46) (48.3,52) (49.3,57.1) (50.5,64)
(51.5,70) (52.3,75.0) (52.9,76.8) (54.0,75.5) (55.5,73.5) (57.1,71.5) (57.8,64) (58.3,57.1) (59.3,48) (60.3,42) (61.3,37.5)
(62.0,38.5) (63.0,40) (64.3,42.9) (64.8,46) (65.5,55) (65.8,49) (66.4,62) (66.8,57) (67.2,67.8) (67.8,62) (68.2,66)
(68.5,60.8) (69.3,58) (70.2,53.6) (70.6,56) (71.0,42) (71.4,60) (71.8,45) (72.7,39.3) (73.5,37) (74.3,39) (75.1,37.5)
(75.4,46) (75.8,40) (76.3,50.1) (77.2,55) (78.0,58) (78.6,60.8) (79.2,58) (79.6,62) (80.5,60.8) (80.8,57) (81.1,53.6)
(81.5,62) (81.9,50) (82.8,46.4) (83.8,40) (84.5,37) (85.3,34.0) (86.2,38) (87.5,44) (89.2,50.1) (91.0,54) (92.9,57.1)
(94.8,62) (96.6,66.1) (98.5,71) (100.3,75.0) (102.0,78) (103.4,82.2) (104.3,80) (105.3,77) (106.5,75.0) (107.7,71.5)
(109.5,74) (111.5,78.6) (112.5,76) (113.9,73.2) (115.5,77) (116.5,81) (117.6,83.9) (119.0,88) (120.7,92.2) (121.3,88)
(121.9,83.9) (123.0,87) (123.8,89.3) (124.3,96) (124.7,100) (126.3,100) (126.9,89.3) (127.5,92) (128.2,96) (128.8,94.6)
(129.4,90) (130.0,84) (130.6,78.6) (131.0,75) (131.5,70) (132.0,67) (132.5,64.3) (133.3,68) (134.0,63) (135.0,66)
(135.6,64.3) (136.8,67) (138.7,71.5) (139.9,78.6) (141.0,76) (142.4,75.0) (143.5,72) (144.9,67.8) (146.0,64) (147.3,60.8)
(148.0,57) (148.5,64) (149.1,53.6) (149.5,65) (149.8,69.7) (150.3,58) (151.0,53.6) (152.0,50) (152.9,46.4) (153.5,40)
(154.2,34.0) (155.0,30) (156.0,28.9) (157.5,31) (158.5,33) (159.7,35.7) (160.5,39) (161.5,42.9) (162.5,50) (163.3,56)
(164.1,60.8) (165.0,64) (165.9,64.3) (166.2,62) (166.35,100) (166.45,21) (166.55,72) (167.0,76) (167.4,82.5)};
\end{axis}

% ---------------- (e) urban pressure
\begin{axis}[base, at={(69.225pt,123.75pt)}, height=72.225pt, ymin=1004.5, ymax=1048.3,
  axis x line=none, axis y line=box, ytick pos=left, xtick=\empty,
  ytick={1010,1020,1030,1040}, minor ytick={1005,1015,1025,1035,1045}]
\addplot[mygreen, line width=1pt] coordinates {
(7.95,1036.2) (9.0,1036.0) (10.3,1035.5) (11.5,1034.5) (12.7,1033.2) (14.5,1032.6) (16.4,1032.4) (17.5,1033.0) (18.7,1033.6)
(21.1,1033.5) (23.0,1033.3) (25.9,1033.9) (28.0,1033.4) (30.1,1032.9) (31.5,1033.4) (33.1,1034.2) (35.0,1033.0) (36.7,1030.9)
(38.5,1030.0) (40.9,1029.4) (43.0,1029.6) (45.1,1030.0) (47.0,1028.7) (49.3,1027.1) (51.0,1026.2) (52.3,1025.6) (54.0,1025.2)
(55.9,1024.9) (57.2,1024.2) (58.3,1023.3) (60.0,1021.8) (61.8,1020.3) (63.5,1020.1) (65.5,1020.3) (67.5,1020.9) (69.1,1021.5)
(71.0,1021.8) (73.3,1022.1) (76.0,1021.9) (78.6,1021.5) (79.8,1021.9) (80.5,1021.0) (82.3,1018.5) (84.5,1017.0) (86.4,1016.0)
(89.0,1015.3) (92.0,1014.8) (95.4,1014.2) (98.0,1012.6) (100.3,1011.2) (102.0,1010.4) (103.8,1009.4) (106.5,1008.2)
(108.5,1006.4) (110.9,1005.1) (113.0,1005.4) (115.2,1005.9) (117.5,1005.1) (120.1,1004.4) (121.8,1004.9) (123.2,1005.9)
(124.8,1009.0) (126.3,1012.7) (128.0,1015.8) (130.0,1018.8) (132.5,1020.6) (135.6,1022.6) (137.8,1024.8) (139.9,1027.1)
(142.5,1027.5) (144.9,1027.9) (147.0,1028.8) (149.1,1029.7) (150.5,1030.0) (152.3,1030.1) (154.5,1028.8) (157.2,1027.1)
(158.5,1026.3) (159.0,1027.0) (159.7,1026.0) (161.5,1025.8) (163.4,1025.6) (165.5,1025.0) (167.4,1024.5)};
\end{axis}

% ---------------- (f) mountain pressure
\begin{axis}[base, at={(69.225pt,50.25pt)}, height=70.725pt, ymin=972.6, ymax=1011.7,
  axis x line*=bottom, axis y line=box, ytick pos=left,
  ytick={980,990,1000,1010}, minor ytick={975,985,995,1005},
  xtick={24,48,72,96,120,144}, xticklabels={11/1,11/2,11/3,11/4,11/5,11/6},
  xticklabel style={yshift=-2.5pt, font=\fontsize{15}{15}\selectfont}]
\addplot[mygreen, line width=1pt] coordinates {
(7.95,1004.4) (10.3,1004.4) (11.8,1003.3) (13.3,1002.1) (14.8,1001.3) (16.4,1000.7) (18.5,1001.6) (21.1,1001.7) (23.5,1001.5)
(25.9,1001.7) (28.0,1001.4) (30.1,1000.7) (31.5,1001.8) (33.1,1002.5) (34.9,1001.8) (36.7,1000.7) (38.5,999.5) (40.4,998.6)
(42.7,998.8) (45.1,998.6) (47.2,997.8) (49.3,996.6) (52.3,995.0) (55.3,993.8) (57.1,994.2) (58.3,993.4) (59.5,992.4)
(61.3,991.0) (63.0,990.0) (66.5,990.1) (70.2,990.6) (73.3,990.9) (76.3,991.0) (78.5,991.2) (80.5,991.3) (81.0,992.0)
(81.5,991.0) (82.3,989.6) (83.0,988.9) (85.0,987.5) (87.0,986.2) (89.2,985.5) (92.3,985.0) (95.4,984.5) (98.0,982.7)
(100.3,981.3) (102.0,980.6) (103.8,979.7) (106.5,979.3) (108.8,977.8) (110.9,976.5) (113.0,976.6) (115.2,976.5) (117.8,975.9)
(120.1,975.4) (121.5,975.9) (123.2,976.2) (124.8,977.8) (126.3,980.0) (128.8,984.2) (131.3,988.3) (133.5,989.5) (135.6,990.6)
(138.0,993.2) (140.5,995.9) (142.7,996.3) (144.9,996.6) (147.0,997.4) (149.1,998.3) (151.0,998.9) (152.9,999.3) (155.0,998.2)
(157.2,997.2) (158.9,996.1) (159.2,996.9) (159.6,995.8) (160.9,994.7) (163.4,994.2) (165.3,993.8) (165.6,994.8) (165.9,993.5)
(167.4,992.8)};
\end{axis}

% ---------------- annotations (1 unit = 1 px of the reference)
\begin{scope}[x=0.75pt, y=0.75pt]
\foreach \xx in {172.3,663.3,781} {
  \draw[dgray, line width=1.5pt, dash pattern=on 3pt off 4.5pt] (\xx,711) -- (\xx,67);
}
\draw[black!60, line width=1.1pt] (92.3,712) -- (1044.3,712);
\draw[black, line width=1.1pt] (92.3,748) -- (92.3,716);
\draw[black, line width=1.1pt] (172.3,749.7) -- (172.3,716);
\draw[black, line width=1.1pt] (664,735) -- (664,716);
\draw[black, line width=1.1pt] (781,749.7) -- (781,716);
\draw[black, line width=1.1pt] (1044.3,749.7) -- (1044.3,716);
\draw[black, line width=1.1pt, -{Stealth[length=9pt,width=6pt]}] (172.3,749.7) -- (429,749.7);
\draw[black, line width=1.1pt, -{Stealth[length=9pt,width=6pt]}] (781,749.7) -- (523,749.7);
\node[font=\fontsize{21.4}{22}\selectfont\bfseries] at (476.8,751) {Haze-I};
\draw[mymag, line width=1.1pt, -{Stealth[length=9pt,width=6pt]}] (783,749.7) -- (860,749.7);
\draw[mymag, line width=1.1pt, -{Stealth[length=9pt,width=6pt]}] (1044.3,749.7) -- (963,749.7);
\node[mymag, font=\fontsize{21.4}{22}\selectfont\bfseries] at (913,751) {Haze-II};
\node[font=\fontsize{18}{18}\selectfont\bfseries\itshape] at (130,726) {clean};
\node[font=\fontsize{18}{18}\selectfont\bfseries\itshape] at (420,726) {moderate};
\node[font=\fontsize{18}{18}\selectfont\bfseries\itshape] at (723,726) {heavy};
\node[anchor=west] at (100,693) {\plab{(a)}};
\node[anchor=west] at (100,598) {\plab{(b)}};
\node[anchor=west] at (100,409.7) {\plab{(c)}};
\node[anchor=west] at (100,324.7) {\plab{(d)}};
\node[anchor=west] at (100,248) {\plab{(e)}};
\node[anchor=west] at (100,157) {\plab{(f)}};
\node[red] at (549.5,694) {\slab{Urban}};
\node[blue] at (565,598) {\slab{Mountain}};
\node[red] at (549.5,411.3) {\slab{Urban}};
\node[blue] at (565,324.7) {\slab{Mountain}};
\node[red] at (549.5,248) {\slab{Urban}};
\node[blue] at (565,157) {\slab{Mountain}};
\node[anchor=west, font=\fontsize{15.2}{15}\selectfont] at (180,698) {south, 1m/s};
\node[rotate=90, align=center, font=\fontsize{18.75}{21.5}\selectfont] at (39.5,550) {Wind speed (m/s) \&\\Wind direction};
\node[rotate=90, font=\fontsize{18.75}{19}\selectfont] at (25,345) {Temperature (°C)};
\node[rotate=90, font=\fontsize{18.75}{19}\selectfont] at (25,166) {Pressure (hPa)};
\node[rotate=90, font=\fontsize{18.75}{19}\selectfont] at (1104,343) {RH (\%)};
\node[font=\fontsize{18.75}{19}\selectfont] at (578,15) {Date (2016)};
\end{scope}
\end{tikzpicture}
\end{document}
